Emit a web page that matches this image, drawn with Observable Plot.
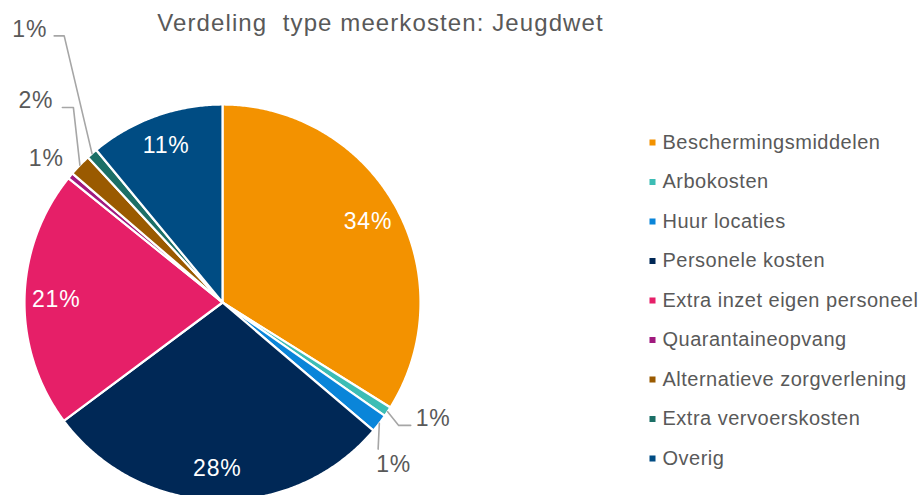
<!DOCTYPE html>
<html>
<head>
<meta charset="utf-8">
<script src="https://cdn.jsdelivr.net/npm/d3@7"></script>
<script src="https://cdn.jsdelivr.net/npm/@observablehq/plot@0.6"></script>
<style>
  html, body { margin: 0; padding: 0; background: #ffffff; }
  #chart svg { display: block; }
</style>
</head>
<body>
<div id="chart"></div>
<script>
// ---- data ----
const title = "Verdeling  type meerkosten: Jeugdwet";
const categories = [
  "Beschermingsmiddelen",
  "Arbokosten",
  "Huur locaties",
  "Personele kosten",
  "Extra inzet eigen personeel",
  "Quarantaineopvang",
  "Alternatieve zorgverlening",
  "Extra vervoerskosten",
  "Overig"
];
const values = [33.9, 0.8, 1.5, 28.6, 21.0, 0.5, 1.8, 0.9, 11.0];
const valueLabels = ["34%", "1%", "1%", "28%", "21%", "1%", "2%", "1%", "11%"];
const colors = ["#F39200", "#3DBDB5", "#0A85D9", "#002856", "#E61F68", "#A0197E", "#9A5A00", "#1B6F66", "#004C83"];

// ---- layout ----
const W = 924, H = 495;
const cx = 222, cy = 302, R = 198;
const insideLabelR = 0.84;
const font = "'Liberation Sans', Arial, sans-serif";
const textGray = "#595959";
const leaderGray = "#A6A6A6";
// outside labels: elbow in polar coordinates (deg clockwise from top, radius factor), tail and text offset
const outside = {
  "Arbokosten": {angle: 124.9, dist: 1.085, tail: [12, 0], off: [5, -7], anchor: "start", leader: true},
  "Huur locaties": {angle: 133.3, dist: 1.08, tail: [0, 0], off: [-2, 15], anchor: "start", leader: true},
  "Quarantaineopvang": {angle: 312.2, dist: 1.083, tail: [0, 0], off: [0, 0], anchor: "end", leader: false},
  "Alternatieve zorgverlening": {angle: 322.6, dist: 1.24, tail: [-11, 0], off: [-9, -7], anchor: "end", leader: true},
  "Extra vervoerskosten": {angle: 329.3, dist: 1.566, tail: [-10, 0], off: [-7, -6.5], anchor: "end", leader: true}
};
const legendX = 652, legendY0 = 142, legendStep = 39.5;

// ---- derived ----
const data = categories.map((key, i) => ({key, value: values[i], label: valueLabels[i], i}));
const arcs = d3.pie().sort(null).value(d => d.value)(data);
const px = (a, r) => cx + r * Math.sin(a);
const py = (a, r) => cy - r * Math.cos(a);

const slicePts = [];
for (const a of arcs) {
  const n = Math.max(2, Math.ceil((a.endAngle - a.startAngle) / (Math.PI / 360)));
  slicePts.push({key: a.data.key, x: cx, y: cy});
  for (let k = 0; k <= n; k++) {
    const t = a.startAngle + (a.endAngle - a.startAngle) * k / n;
    slicePts.push({key: a.data.key, x: px(t, R), y: py(t, R)});
  }
  slicePts.push({key: a.data.key, x: cx, y: cy});
}

const insideLabels = [];
const outsideLabels = [];
const leaderPts = [];
for (const a of arcs) {
  const mid = (a.startAngle + a.endAngle) / 2;
  const o = outside[a.data.key];
  if (!o) {
    insideLabels.push({label: a.data.label, x: px(mid, R * insideLabelR), y: py(mid, R * insideLabelR)});
  } else {
    const ea = o.angle * Math.PI / 180;
    const ex = px(ea, R * o.dist), ey = py(ea, R * o.dist);
    const tx = ex + o.tail[0], ty = ey + o.tail[1];
    if (o.leader) {
      leaderPts.push({key: a.data.key, x: px(mid, R), y: py(mid, R)});
      leaderPts.push({key: a.data.key, x: ex, y: ey});
      leaderPts.push({key: a.data.key, x: tx, y: ty});
    }
    outsideLabels.push({label: a.data.label, x: tx + o.off[0], y: ty + o.off[1], anchor: o.anchor});
  }
}

const chart = Plot.plot({
  width: W,
  height: H,
  margin: 0,
  style: {fontFamily: font, background: "#ffffff"},
  x: {domain: [0, W], range: [0, W], axis: null},
  y: {domain: [0, H], range: [0, H], axis: null},
  color: {domain: categories, range: colors},
  marks: [
    Plot.line(slicePts, {x: "x", y: "y", z: "key", fill: "key", stroke: "#ffffff", strokeWidth: 2.2, strokeLinejoin: "round", curve: "linear"}),
    Plot.line(leaderPts, {x: "x", y: "y", z: "key", stroke: leaderGray, strokeWidth: 1.6, curve: "linear"}),
    Plot.text(insideLabels, {x: "x", y: "y", text: "label", fill: "#ffffff", fontSize: 23, textAnchor: "middle", lineAnchor: "middle"}),
    Plot.text(outsideLabels.filter(d => d.anchor === "start"), {x: "x", y: "y", text: "label", fill: textGray, fontSize: 23, textAnchor: "start", lineAnchor: "middle"}),
    Plot.text(outsideLabels.filter(d => d.anchor === "end"), {x: "x", y: "y", text: "label", fill: textGray, fontSize: 23, textAnchor: "end", lineAnchor: "middle"}),
    Plot.text([title], {x: () => 380, y: () => 23, text: d => d, fill: textGray, fontSize: 24, textAnchor: "middle", lineAnchor: "middle"}),
    Plot.dot(data, {x: () => legendX, y: d => legendY0 + d.i * legendStep, fill: "key", symbol: "square", r: 3.4, stroke: null}),
    Plot.text(data, {x: () => legendX + 10, y: d => legendY0 + d.i * legendStep, text: "key", fill: textGray, fontSize: 20, textAnchor: "start", lineAnchor: "middle"})
  ]
});
// letter spacing for title, legend and percentage texts
d3.select(chart).selectAll("text").each(function () {
  const t = this.textContent;
  if (t === title) { this.style.letterSpacing = "1.1px"; this.style.whiteSpace = "pre"; }
  else if (categories.includes(t)) this.style.letterSpacing = "0.5px";
  else if (valueLabels.includes(t)) this.style.letterSpacing = "0.8px";
});
document.getElementById("chart").append(chart);
</script>
</body>
</html>
